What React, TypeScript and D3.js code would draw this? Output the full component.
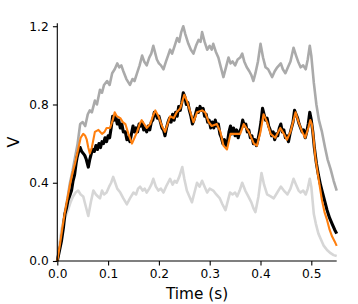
import * as d3 from "d3";
import * as React from "react";

// [time (s), V] pairs
const upperTrace: Array<[number, number]> = [
    [0, 0], [0.005, 0.09], [0.01, 0.17], [0.015, 0.25], [0.02, 0.32], [0.025, 0.40], [0.03, 0.46], [0.035, 0.53],
    [0.04, 0.60], [0.045, 0.70], [0.05, 0.71], [0.055, 0.69], [0.06, 0.75], [0.064, 0.77], [0.068, 0.76], [0.074, 0.82],
    [0.078, 0.80], [0.084, 0.875], [0.088, 0.86], [0.092, 0.90], [0.098, 0.92], [0.103, 0.90], [0.108, 0.96], [0.113, 0.98],
    [0.118, 1.01], [0.122, 0.99], [0.126, 1.00], [0.13, 0.97], [0.136, 0.93], [0.143, 0.90], [0.148, 0.93], [0.152, 0.92],
    [0.157, 0.96], [0.162, 1.00], [0.167, 1.05], [0.171, 1.02], [0.176, 1.00], [0.181, 1.04], [0.185, 1.06], [0.189, 1.10],
    [0.193, 1.06], [0.196, 1.03], [0.2, 1.01], [0.204, 1.00], [0.209, 0.98], [0.214, 1.02], [0.218, 1.05], [0.222, 1.08],
    [0.226, 1.06], [0.231, 1.10], [0.236, 1.14], [0.24, 1.12], [0.244, 1.17], [0.248, 1.20], [0.252, 1.16], [0.258, 1.11],
    [0.263, 1.08], [0.268, 1.06], [0.273, 1.10], [0.278, 1.13], [0.282, 1.12], [0.285, 1.17], [0.29, 1.12], [0.295, 1.08],
    [0.3, 1.10], [0.304, 1.08], [0.307, 1.11], [0.312, 1.07], [0.317, 1.04], [0.322, 0.99], [0.327, 0.94], [0.332, 0.99],
    [0.337, 1.04], [0.341, 1.01], [0.345, 1.02], [0.35, 1.00], [0.355, 1.03], [0.36, 1.04], [0.364, 1.06], [0.368, 1.02],
    [0.373, 0.99], [0.378, 0.97], [0.382, 0.95], [0.386, 0.92], [0.39, 0.96], [0.395, 1.02], [0.4, 1.11], [0.405, 1.04],
    [0.41, 0.99], [0.415, 0.98], [0.419, 0.96], [0.423, 0.94], [0.428, 0.97], [0.433, 0.99], [0.44, 1.01], [0.444, 0.98],
    [0.449, 0.96], [0.454, 0.99], [0.459, 1.02], [0.465, 1.09], [0.47, 1.05], [0.474, 1.02], [0.479, 0.99], [0.484, 1.00],
    [0.489, 0.98], [0.493, 1.03], [0.497, 1.10], [0.5, 1.05], [0.505, 0.91], [0.51, 0.80], [0.515, 0.72], [0.521, 0.66],
    [0.527, 0.58], [0.532, 0.52], [0.538, 0.47], [0.544, 0.41], [0.55, 0.36],
];

const lowerTrace: Array<[number, number]> = [
    [0, 0], [0.005, 0.1], [0.009, 0.17], [0.014, 0.21], [0.018, 0.24], [0.021, 0.26], [0.026, 0.30], [0.031, 0.33],
    [0.036, 0.35], [0.041, 0.36], [0.046, 0.34], [0.051, 0.33], [0.056, 0.28], [0.061, 0.23], [0.066, 0.30], [0.071, 0.36],
    [0.076, 0.34], [0.08, 0.33], [0.084, 0.32], [0.088, 0.36], [0.092, 0.34], [0.097, 0.35], [0.102, 0.38], [0.106, 0.40],
    [0.11, 0.43], [0.114, 0.40], [0.118, 0.37], [0.124, 0.35], [0.13, 0.32], [0.137, 0.29], [0.143, 0.32], [0.15, 0.35],
    [0.155, 0.34], [0.159, 0.37], [0.163, 0.38], [0.168, 0.36], [0.172, 0.37], [0.176, 0.35], [0.181, 0.37], [0.185, 0.39],
    [0.189, 0.42], [0.194, 0.38], [0.199, 0.36], [0.204, 0.37], [0.209, 0.35], [0.214, 0.38], [0.218, 0.40], [0.222, 0.42],
    [0.227, 0.39], [0.231, 0.41], [0.235, 0.40], [0.24, 0.43], [0.246, 0.48], [0.25, 0.42], [0.255, 0.36], [0.26, 0.33],
    [0.265, 0.30], [0.27, 0.35], [0.275, 0.40], [0.28, 0.38], [0.285, 0.41], [0.29, 0.38], [0.295, 0.35], [0.3, 0.37],
    [0.307, 0.36], [0.313, 0.34], [0.32, 0.32], [0.325, 0.29], [0.331, 0.26], [0.336, 0.31], [0.34, 0.35], [0.345, 0.34],
    [0.35, 0.35], [0.354, 0.33], [0.359, 0.36], [0.364, 0.40], [0.37, 0.36], [0.376, 0.33], [0.382, 0.30], [0.386, 0.27],
    [0.39, 0.25], [0.396, 0.33], [0.402, 0.45], [0.407, 0.39], [0.413, 0.34], [0.42, 0.33], [0.426, 0.32], [0.433, 0.35],
    [0.44, 0.38], [0.446, 0.36], [0.453, 0.34], [0.459, 0.37], [0.465, 0.42], [0.47, 0.39], [0.475, 0.36], [0.479, 0.35],
    [0.484, 0.36], [0.489, 0.34], [0.493, 0.37], [0.497, 0.42], [0.5, 0.38], [0.505, 0.24], [0.509, 0.19], [0.514, 0.14],
    [0.519, 0.11], [0.524, 0.08], [0.531, 0.056], [0.538, 0.04], [0.544, 0.03], [0.55, 0.025],
];

const measured: Array<[number, number]> = [
    [0, 0], [0.004, 0.05], [0.008, 0.10], [0.012, 0.17], [0.015, 0.24], [0.018, 0.27], [0.021, 0.31], [0.024, 0.33],
    [0.028, 0.36], [0.031, 0.41], [0.034, 0.44], [0.037, 0.50], [0.039, 0.53], [0.042, 0.56], [0.045, 0.58], [0.048, 0.56],
    [0.051, 0.55], [0.054, 0.54], [0.057, 0.52], [0.061, 0.48], [0.064, 0.52], [0.067, 0.55], [0.07, 0.57], [0.073, 0.56],
    [0.076, 0.59], [0.079, 0.57], [0.082, 0.60], [0.085, 0.58], [0.088, 0.61], [0.091, 0.60], [0.094, 0.63], [0.097, 0.61],
    [0.1, 0.64], [0.103, 0.63], [0.106, 0.68], [0.109, 0.74], [0.112, 0.72], [0.115, 0.74], [0.118, 0.70], [0.121, 0.72],
    [0.124, 0.68], [0.127, 0.70], [0.13, 0.66], [0.134, 0.66], [0.137, 0.62], [0.14, 0.63], [0.143, 0.61], [0.146, 0.65],
    [0.149, 0.69], [0.152, 0.66], [0.155, 0.68], [0.158, 0.66], [0.161, 0.70], [0.164, 0.69], [0.167, 0.71], [0.17, 0.67],
    [0.173, 0.68], [0.176, 0.66], [0.179, 0.69], [0.182, 0.67], [0.185, 0.71], [0.188, 0.72], [0.191, 0.76], [0.194, 0.75],
    [0.197, 0.73], [0.2, 0.74], [0.203, 0.71], [0.206, 0.68], [0.209, 0.67], [0.212, 0.64], [0.215, 0.68], [0.218, 0.71],
    [0.221, 0.73], [0.224, 0.71], [0.227, 0.75], [0.23, 0.72], [0.233, 0.76], [0.236, 0.74], [0.239, 0.79], [0.242, 0.77],
    [0.245, 0.81], [0.248, 0.86], [0.251, 0.84], [0.254, 0.80], [0.257, 0.81], [0.26, 0.77], [0.263, 0.74], [0.266, 0.70],
    [0.269, 0.72], [0.272, 0.75], [0.275, 0.78], [0.278, 0.76], [0.281, 0.79], [0.284, 0.77], [0.287, 0.78], [0.29, 0.74],
    [0.293, 0.75], [0.296, 0.71], [0.299, 0.72], [0.302, 0.68], [0.305, 0.71], [0.308, 0.68], [0.311, 0.72], [0.314, 0.69],
    [0.317, 0.70], [0.32, 0.65], [0.323, 0.63], [0.326, 0.60], [0.329, 0.62], [0.332, 0.59], [0.335, 0.61], [0.338, 0.66],
    [0.341, 0.69], [0.344, 0.65], [0.347, 0.68], [0.35, 0.64], [0.353, 0.67], [0.356, 0.63], [0.359, 0.66], [0.362, 0.68],
    [0.365, 0.72], [0.368, 0.69], [0.371, 0.70], [0.374, 0.66], [0.377, 0.67], [0.38, 0.63], [0.383, 0.64], [0.386, 0.60],
    [0.389, 0.62], [0.392, 0.59], [0.395, 0.62], [0.398, 0.66], [0.401, 0.71], [0.404, 0.78], [0.407, 0.75], [0.41, 0.72],
    [0.413, 0.73], [0.416, 0.69], [0.419, 0.67], [0.422, 0.64], [0.425, 0.66], [0.428, 0.62], [0.431, 0.65], [0.434, 0.64],
    [0.437, 0.68], [0.44, 0.70], [0.443, 0.66], [0.446, 0.67], [0.449, 0.63], [0.452, 0.64], [0.455, 0.61], [0.458, 0.65],
    [0.461, 0.68], [0.464, 0.71], [0.467, 0.77], [0.47, 0.75], [0.473, 0.73], [0.476, 0.70], [0.479, 0.68], [0.482, 0.66],
    [0.485, 0.67], [0.488, 0.63], [0.491, 0.66], [0.494, 0.70], [0.497, 0.76], [0.5, 0.72], [0.503, 0.66], [0.506, 0.58],
    [0.51, 0.50], [0.514, 0.44], [0.518, 0.39], [0.521, 0.36], [0.526, 0.31], [0.531, 0.26], [0.536, 0.22], [0.541, 0.19],
    [0.546, 0.16], [0.55, 0.14],
];

const model: Array<[number, number]> = [
    [0, 0], [0.005, 0.08], [0.01, 0.17], [0.015, 0.25], [0.02, 0.32], [0.025, 0.39], [0.03, 0.45], [0.035, 0.50],
    [0.041, 0.57], [0.046, 0.63], [0.051, 0.65], [0.055, 0.64], [0.058, 0.62], [0.061, 0.58], [0.064, 0.55], [0.068, 0.58],
    [0.074, 0.66], [0.081, 0.67], [0.088, 0.65], [0.093, 0.66], [0.097, 0.68], [0.104, 0.68], [0.109, 0.72], [0.113, 0.76],
    [0.117, 0.74], [0.124, 0.73], [0.129, 0.71], [0.134, 0.70], [0.14, 0.65], [0.147, 0.60], [0.152, 0.63], [0.157, 0.66],
    [0.162, 0.70], [0.166, 0.72], [0.171, 0.70], [0.176, 0.68], [0.183, 0.70], [0.188, 0.74], [0.193, 0.77], [0.199, 0.74],
    [0.206, 0.69], [0.212, 0.66], [0.217, 0.70], [0.222, 0.74], [0.229, 0.73], [0.235, 0.76], [0.242, 0.78], [0.25, 0.85],
    [0.255, 0.82], [0.262, 0.76], [0.268, 0.71], [0.275, 0.76], [0.285, 0.77], [0.291, 0.76], [0.298, 0.71], [0.304, 0.69],
    [0.314, 0.70], [0.321, 0.66], [0.327, 0.59], [0.334, 0.57], [0.341, 0.65], [0.35, 0.65], [0.36, 0.65], [0.367, 0.70],
    [0.377, 0.66], [0.387, 0.60], [0.393, 0.59], [0.4, 0.66], [0.406, 0.75], [0.413, 0.71], [0.42, 0.65], [0.429, 0.63],
    [0.439, 0.68], [0.446, 0.65], [0.452, 0.62], [0.459, 0.66], [0.469, 0.76], [0.475, 0.71], [0.482, 0.66], [0.488, 0.63],
    [0.494, 0.68], [0.498, 0.72], [0.501, 0.70], [0.504, 0.64], [0.508, 0.53], [0.512, 0.46], [0.515, 0.41], [0.521, 0.31],
    [0.526, 0.25], [0.531, 0.21], [0.536, 0.16], [0.541, 0.125], [0.546, 0.10], [0.55, 0.077],
];

const xTicks = [0, 0.1, 0.2, 0.3, 0.4, 0.5];
const yTicks = [0, 0.4, 0.8, 1.2];

const width = 358;
const height = 304;
const margin = { top: 23.3, right: 21.3, bottom: 43, left: 57.3 };
const font = "DejaVu Sans";

export default function App() {
    const ref = React.useRef<SVGSVGElement>(null);

    React.useEffect(() => {
        const svg = d3.select(ref.current!);
        svg.selectAll("*").remove();

        const x = d3.scaleLinear().domain([0, 0.55]).range([margin.left, width - margin.right]);
        const y = d3.scaleLinear().domain([0, 1.215]).range([height - margin.bottom, margin.top]);

        const line = d3.line<[number, number]>().x(d => x(d[0])).y(d => y(d[1]));

        // noisy traces look thicker in the original, so widths are a bit generous
        const traces = [
            { data: upperTrace, color: "#aaaaaa", w: 2.6 },
            { data: lowerTrace, color: "#d6d6d6", w: 2.6 },
            { data: measured, color: "#000000", w: 3.1 },
            { data: model, color: "#ff7f0e", w: 2.1 },
        ];

        svg.append("g").selectAll("path")
            .data(traces)
            .join("path")
            .attr("d", t => line(t.data))
            .attr("fill", "none")
            .attr("stroke", t => t.color)
            .attr("stroke-width", t => t.w)
            .attr("stroke-linejoin", "round");

        svg.append("g")
            .attr("transform", `translate(0,${height - margin.bottom})`)
            .call(d3.axisBottom(x).tickValues(xTicks).tickFormat(d3.format(".1f")).tickSize(4.4).tickPadding(4))
            .call(g => g.selectAll("text").attr("font-size", 12.2).attr("font-family", font).attr("fill", "#000"))
            .call(g => g.selectAll("line").attr("stroke-width", 1.1))
            .call(g => g.select(".domain").attr("d", `M${margin.left},0H${width - margin.right}`).attr("stroke-width", 1.1));

        svg.append("g")
            .attr("transform", `translate(${margin.left},0)`)
            .call(d3.axisLeft(y).tickValues(yTicks).tickFormat(d3.format(".1f")).tickSize(4.4).tickPadding(4.2))
            .call(g => g.selectAll("text").attr("font-size", 12.2).attr("font-family", font).attr("fill", "#000"))
            .call(g => g.selectAll("line").attr("stroke-width", 1.1))
            .call(g => g.select(".domain").attr("d", `M0,${height - margin.bottom}V${margin.top}`).attr("stroke-width", 1.1));

        svg.append("text")
            .attr("x", (margin.left + width - margin.right) / 2)
            .attr("y", 299)
            .attr("text-anchor", "middle")
            .attr("font-family", font)
            .attr("font-size", 15.3)
            .text("Time (s)");

        svg.append("text")
            .attr("transform", `translate(19,${(margin.top + height - margin.bottom) / 2}) rotate(-90)`)
            .attr("text-anchor", "middle")
            .attr("font-family", font)
            .attr("font-size", 16)
            .text("V");
    }, []);

    return (
        <svg ref={ref} width={width} height={height}
            style={{ position: "absolute", left: 0, top: 0, background: "#fff" }} />
    );
}
